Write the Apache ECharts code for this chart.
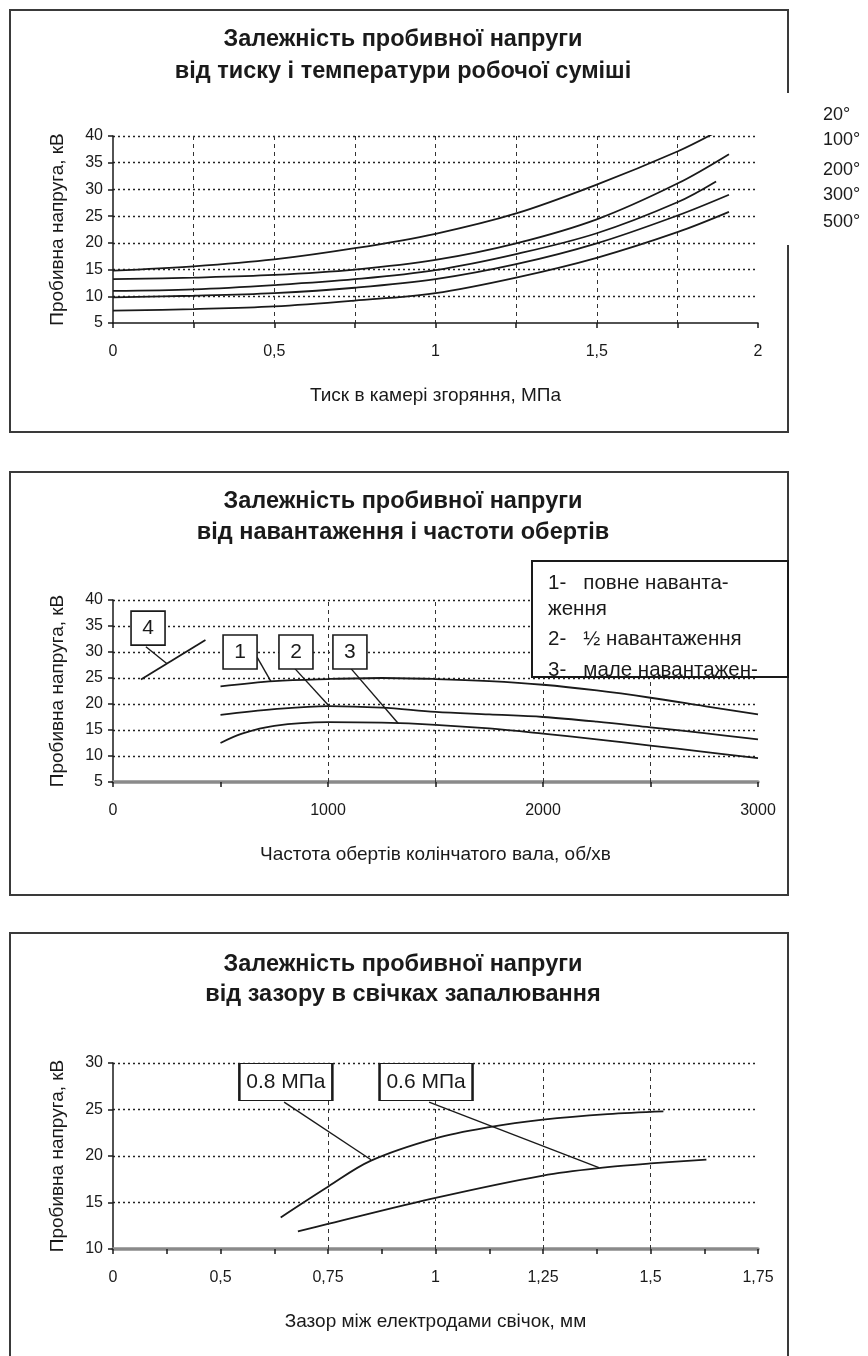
<!DOCTYPE html>
<html><head><meta charset="utf-8">
<script src="https://cdn.jsdelivr.net/npm/echarts@6/dist/echarts.min.js"></script>
<style>html,body{margin:0;padding:0;background:#fff}#c{width:868px;height:1356px}</style>
</head><body><div id="c"></div>
<script>
// ---------- DATA ----------
// Panel 1: breakdown voltage vs pressure, per mixture temperature
const tempLabels = ['20°', '100°', '200°', '300°', '500°'];
const p1_t20  = [[0,14.8],[0.25,15.6],[0.5,16.9],[0.75,19.0],[1.0,21.7],[1.25,25.5],[1.5,30.9],[1.75,37.1],[1.86,40.4]];
const p1_t100 = [[0,13.2],[0.25,13.5],[0.5,14.0],[0.75,15.0],[1.0,16.8],[1.25,19.9],[1.5,24.4],[1.75,31.1],[1.91,36.6]];
const p1_t200 = [[0,11.0],[0.25,11.3],[0.5,12.1],[0.75,13.2],[1.0,14.9],[1.25,17.9],[1.5,21.8],[1.75,27.6],[1.87,31.5]];
const p1_t300 = [[0,9.8],[0.25,10.1],[0.5,10.6],[0.75,11.6],[1.0,13.2],[1.25,16.0],[1.5,19.9],[1.75,25.1],[1.91,29.0]];
const p1_t500 = [[0,7.3],[0.25,7.6],[0.5,8.1],[0.75,9.2],[1.0,10.6],[1.25,13.5],[1.5,17.2],[1.75,22.0],[1.91,25.8]];
const p1_xTicks = [0, 0.5, 1, 1.5, 2];

// Panel 2: breakdown voltage vs engine speed, per load
const p2_full = [[500,23.4],[750,24.4],[1000,24.8],[1250,25.0],[1500,24.8],[1750,24.4],[2000,23.7],[2250,22.6],[2500,21.2],[2750,19.6],[3000,18.0]];
const p2_half = [[500,17.9],[750,19.0],[1000,19.6],[1250,19.3],[1500,18.5],[1750,18.0],[2000,17.5],[2250,16.6],[2500,15.5],[2750,14.4],[3000,13.2]];
const p2_low  = [[500,12.5],[600,14.3],[750,15.8],[1000,16.5],[1250,16.4],[1500,16.0],[1750,15.3],[2000,14.3],[2250,13.2],[2500,12.0],[2750,10.8],[3000,9.6]];
const p2_c4   = [[130,24.7],[430,32.3]];
const p2_xTicks = [0, 1000, 2000, 3000];
const p2_vGrid  = [1000, 1500, 2000, 2500];
const p2_legendLines = ['1-   повне наванта-', 'ження', '2-   ½ навантаження', '3-   мале навантажен-'];

// Panel 3: breakdown voltage vs spark plug gap, per pressure
const p3_08 = [[0.64,13.4],[0.75,16.7],[0.85,19.5],[1.0,21.9],[1.125,23.1],[1.25,23.9],[1.4,24.5],[1.53,24.8]];
const p3_06 = [[0.68,11.9],[0.75,12.7],[1.0,15.5],[1.25,17.9],[1.4,18.8],[1.5,19.2],[1.63,19.6]];
const p3_xTickLabels = ['0', '0,5', '0,75', '1', '1,25', '1,5', '1,75'];
const p3_vGrid  = [0.75, 1.0, 1.25, 1.5];

// Texts
const titles = [
  ['Залежність пробивної напруги', 'від тиску і температури робочої суміші'],
  ['Залежність пробивної напруги', 'від навантаження і частоти обертів'],
  ['Залежність пробивної напруги', 'від зазору в свічках запалювання']
];
const xNames = ['Тиск в камері згоряння, МПа', 'Частота обертів колінчатого вала, об/хв', 'Зазор між електродами свічок, мм'];
const yName = 'Пробивна напруга, кВ';

// Annotations (callout boxes and leader lines, in data coordinates)
const p2_callouts = [
  {text:'4', at:[163,34.6], from:[153,31.0], to:[250,27.8]},
  {text:'1', at:[591,30.0], from:[670,29.0], to:[735,24.3]},
  {text:'2', at:[851,30.0], from:[846,26.8], to:[1005,19.6]},
  {text:'3', at:[1102,30.0], from:[1107,26.8], to:[1326,16.3]}
];
const p3_callouts = [
  {text:'0.8 МПа', at:[0.652,27.96], from:[0.648,25.8], to:[0.85,19.6]},
  {text:'0.6 МПа', at:[0.978,27.96], from:[0.985,25.8], to:[1.38,18.75]}
];

// ---------- CHART ----------
const FONT = "'Liberation Sans',Arial,sans-serif";
const INK = '#1a1a1a';
const chart = echarts.init(document.getElementById('c'), null, {renderer:'canvas'});
const near = (a, b) => Math.abs(a - b) < 1e-6;

function xAxis(idx, min, max, interval, fmt, thick, ownGrid) {
  return {
    type:'value', gridIndex:idx, min, max, interval,
    name: xNames[idx], nameLocation:'middle', nameGap: 63,
    nameTextStyle:{fontFamily:FONT, fontSize:19, color:INK},
    axisLine:{show:true, onZero:false, lineStyle: thick ? {color:'#8a8a8a', width:3.5} : {color:INK, width:1.5}},
    axisTick:{show:true, length:5, lineStyle:{color:INK, width:1.5}},
    minorTick:{show: idx === 2, splitNumber:2, length:5, lineStyle:{color:INK, width:1.5}},
    axisLabel:{formatter:fmt, fontFamily:FONT, fontSize:16, color:INK, margin:21, showMinLabel:true, showMaxLabel:true},
    splitLine:{show:ownGrid, showMinLine:false, showMaxLine:false, lineStyle:{type:[4,4], color:'#333', width:1}}
  };
}
function yAxis(idx, min, max) {
  return {
    type:'value', gridIndex:idx, min, max, interval:5,
    name: yName, nameLocation:'middle', nameGap: 46, nameRotate:90,
    nameTextStyle:{fontFamily:FONT, fontSize:19, color:INK},
    axisLine:{show:true, lineStyle:{color:INK, width:1.5}},
    axisTick:{show:true, length:5, lineStyle:{color:INK, width:1.5}},
    axisLabel:{fontFamily:FONT, fontSize:16, color:INK, margin:10},
    splitLine:{show:true, showMinLine:false, lineStyle:{type:[2,3], color:'#222', width:1.3}}
  };
}
function line(data, xi, smooth) {
  return {
    type:'line', data, xAxisIndex:xi, yAxisIndex:xi, smooth: smooth ? 0.35 : false,
    showSymbol:false, symbol:'none', animation:false, silent:true,
    lineStyle:{color:INK, width:1.8}
  };
}
function callouts(list, size, fs) {
  return {
    markPoint:{
      symbol:'rect', symbolSize:size, silent:true, animation:false,
      itemStyle:{color:'#fff', borderColor:INK, borderWidth:1.6},
      label:{show:true, formatter:p=>p.name, color:INK, fontFamily:FONT, fontSize:fs},
      data: list.map(c => ({name:c.text, coord:c.at}))
    },
    markLine:{
      symbol:['none','none'], silent:true, animation:false, label:{show:false},
      lineStyle:{color:INK, width:1.4, type:'solid'},
      data: list.map(c => [{coord:c.from},{coord:c.to}])
    }
  };
}
function vGrid(values) {
  return {
    markLine:{
      symbol:['none','none'], silent:true, animation:false, label:{show:false},
      lineStyle:{color:'#333', width:1, type:[4,4]},
      data: values.map(v => ({xAxis:v}))
    }
  };
}

const series = [];
[p1_t20, p1_t100, p1_t200, p1_t300, p1_t500].forEach(d => series.push(line(d, 0, true)));
series.push(Object.assign(line(p2_full, 1, true), vGrid(p2_vGrid)));
series.push(line(p2_half, 1, true));
series.push(line(p2_low, 1, true));
series.push(Object.assign(line(p2_c4, 1, false), callouts(p2_callouts, [34,34], 21)));
series.push(Object.assign(line(p3_08, 2, true), callouts(p3_callouts, [93,37], 21)));
series.push(Object.assign(line(p3_06, 2, true), vGrid(p3_vGrid)));

// graphic: frames, titles, side labels, legend box
const graphic = [];
const frameStyle = {stroke:'#3a3a3a', lineWidth:2, fill:null};
graphic.push({type:'polyline', z:100, shape:{points:[[788,93],[788,10],[10,10],[10,432],[788,432],[788,245]]}, style:frameStyle});
graphic.push({type:'rect', z:100, shape:{x:10, y:472, width:778, height:423}, style:frameStyle});
graphic.push({type:'polyline', z:100, shape:{points:[[10,1360],[10,933],[788,933],[788,1360]]}, style:frameStyle});

const titleY = [[40,72],[502,533],[965,995]];
titles.forEach((t, i) => t.forEach((s, j) => graphic.push({
  type:'text', z:100, x:403, y:titleY[i][j],
  style:{text:s, fontFamily:FONT, fontWeight:'bold', fontSize:23.5, fill:INK, align:'center', verticalAlign:'middle'}
})));

const tempY = [115,140,170,195,222];
tempLabels.forEach((s, i) => graphic.push({
  type:'text', z:100, x:823, y:tempY[i],
  style:{text:s, fontFamily:FONT, fontSize:18, fill:INK, align:'left', verticalAlign:'middle'}
}));

graphic.push({type:'rect', z:100, shape:{x:532, y:561, width:256, height:116}, style:{fill:'#fff', stroke:null}});
const legY = [583,609,639,670];
p2_legendLines.forEach((s, i) => graphic.push({
  type:'text', z:101, x:548, y:legY[i],
  style:{text:s, fontFamily:FONT, fontSize:20.5, fill:INK, align:'left', verticalAlign:'middle'}
}));
graphic.push({type:'rect', z:102, shape:{x:532, y:561, width:256, height:116}, style:{fill:null, stroke:INK, lineWidth:2}});

chart.setOption({
  backgroundColor:'#fff',
  animation:false,
  grid:[
    {left:113, top:136, width:645, height:187},
    {left:113, top:600, width:645, height:182},
    {left:113, top:1063, width:645, height:186}
  ],
  xAxis:[
    xAxis(0, 0, 2, 0.25, v => (p1_xTicks.some(t => near(t, v)) ? String(v).replace('.', ',') : ''), false, true),
    xAxis(1, 0, 3000, 500, v => (p2_xTicks.includes(v) ? String(v) : ''), true, false),
    xAxis(2, 0.25, 1.75, 0.25, v => p3_xTickLabels[Math.round((v - 0.25) / 0.25)] || '', true, false)
  ],
  yAxis:[ yAxis(0, 5, 40), yAxis(1, 5, 40), yAxis(2, 10, 30) ],
  series,
  graphic
});
</script>
</body></html>
